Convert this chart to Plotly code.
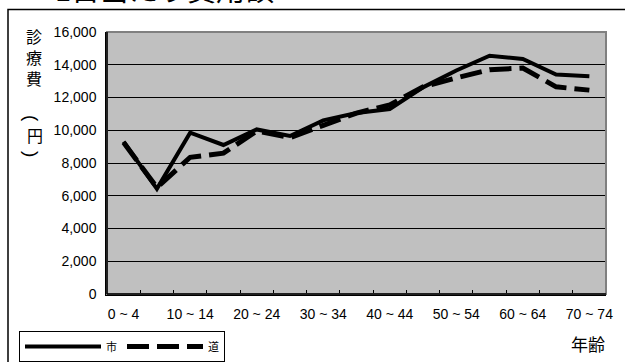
import plotly.graph_objects as go

categories = ["0 ~ 4", "5 ~ 9", "10 ~ 14", "15 ~ 19", "20 ~ 24", "25 ~ 29", "30 ~ 34",
              "35 ~ 39", "40 ~ 44", "45 ~ 49", "50 ~ 54", "55 ~ 59", "60 ~ 64",
              "65 ~ 69", "70 ~ 74"]
city = [9300, 6420, 9850, 9100, 10050, 9650, 10600, 11050, 11300, 12620, 13650,
        14550, 14350, 13400, 13300]
pref = [9250, 6500, 8350, 8600, 9950, 9550, 10300, 11050, 11550, 12650, 13200,
        13700, 13800, 12650, 12450]
tick_labels = [c if i % 2 == 0 else "" for i, c in enumerate(categories)]
y_ticks = [0, 2000, 4000, 6000, 8000, 10000, 12000, 14000, 16000]
title_text = "1日当たり費用額"
y_title_main = "診<br>療<br>費"
y_title_paren = ["(", "円", ")"]
x_title = "年齢"

W, H = 625, 362
L, R, T, B = 107, 19, 32, 68
pw, ph = W - L - R, H - T - B

def px(x):
    return (x - L) / pw

def py(y):
    return (H - B - y) / ph

num_font = "Liberation Sans, Arial, Noto Sans CJK JP"
jp_font = "Noto Sans CJK JP, Liberation Sans"

fig = go.Figure()
fig.add_trace(go.Scatter(x=categories, y=city, name="市", mode="lines",
                         line=dict(color="black", width=4)))
fig.add_trace(go.Scatter(x=categories, y=pref, name="道", mode="lines",
                         line=dict(color="black", width=5, dash="22px,8px")))

annotations = [
    dict(text=title_text, xref="paper", yref="paper", x=px(53), y=py(11),
         xanchor="left", yanchor="bottom", showarrow=False,
         font=dict(family=jp_font, size=29, color="black")),
    dict(text=x_title, xref="paper", yref="paper", x=px(607), y=py(343),
         xanchor="right", yanchor="middle", showarrow=False,
         font=dict(family=jp_font, size=17, color="black")),
    dict(text=y_title_main, xref="paper", yref="paper", x=px(34), y=py(57),
         xanchor="center", yanchor="middle", showarrow=False,
         font=dict(family=jp_font, size=16, color="black")),
]
paren_pos = [(32, 118), (35, 134.5), (32, 154)]
for ch, (xc, yc) in zip(y_title_paren, paren_pos):
    rot = ch in ("(", ")")
    annotations.append(dict(
        text=ch, xref="paper", yref="paper", x=px(xc), y=py(yc),
        xanchor="center", yanchor="middle", showarrow=False,
        textangle=90 if rot else 0,
        font=dict(family=num_font if rot else jp_font, size=19 if rot else 16,
                  color="black")))

fig.update_layout(
    width=W, height=H,
    margin=dict(l=L, r=R, t=T, b=B, autoexpand=False),
    paper_bgcolor="white",
    plot_bgcolor="#C0C0C0",
    font=dict(family=num_font, size=14, color="black"),
    showlegend=True,
    legend=dict(orientation="h", x=px(19), y=py(331), xanchor="left", yanchor="top",
                bordercolor="black", borderwidth=1, bgcolor="white",
                font=dict(family=jp_font, size=11, color="black"),
                itemwidth=76, tracegroupgap=0, traceorder="normal"),
    xaxis=dict(type="category", tickmode="array", tickvals=categories, ticktext=tick_labels,
               tickson="boundaries", ticks="inside", ticklen=4, tickcolor="black",
               showline=True, linecolor="black", linewidth=1.5, showgrid=False,
               range=[-0.5, 14.5], tickfont=dict(size=14), tickangle=0,
               ticklabelstandoff=6, zeroline=False),
    yaxis=dict(range=[0, 16000], tickvals=y_ticks, tickformat=",d",
               ticks="inside", ticklen=5, tickcolor="black",
               showline=True, linecolor="black", linewidth=1.5,
               showgrid=True, gridcolor="black", gridwidth=1,
               tickfont=dict(size=14), ticklabelstandoff=6, zeroline=False),
    shapes=[
        dict(type="rect", xref="paper", yref="paper", x0=0, x1=1, y0=0, y1=1,
             line=dict(color="#808080", width=2), layer="above"),
        dict(type="line", xref="paper", yref="paper", x0=0, x1=0, y0=0, y1=1,
             line=dict(color="black", width=1.5), layer="above"),
        dict(type="line", xref="paper", yref="paper", x0=0, x1=1, y0=0, y1=0,
             line=dict(color="black", width=1.5), layer="above"),
        dict(type="rect", xref="paper", yref="paper", x0=px(8), x1=px(640), y0=py(375), y1=py(9.5),
             line=dict(color="black", width=1.5), layer="below"),
    ],
    annotations=annotations,
)

fig.write_html("out.html", config={"displayModeBar": False},
               post_script="document.body.style.margin='0';document.body.style.overflow='hidden';")
